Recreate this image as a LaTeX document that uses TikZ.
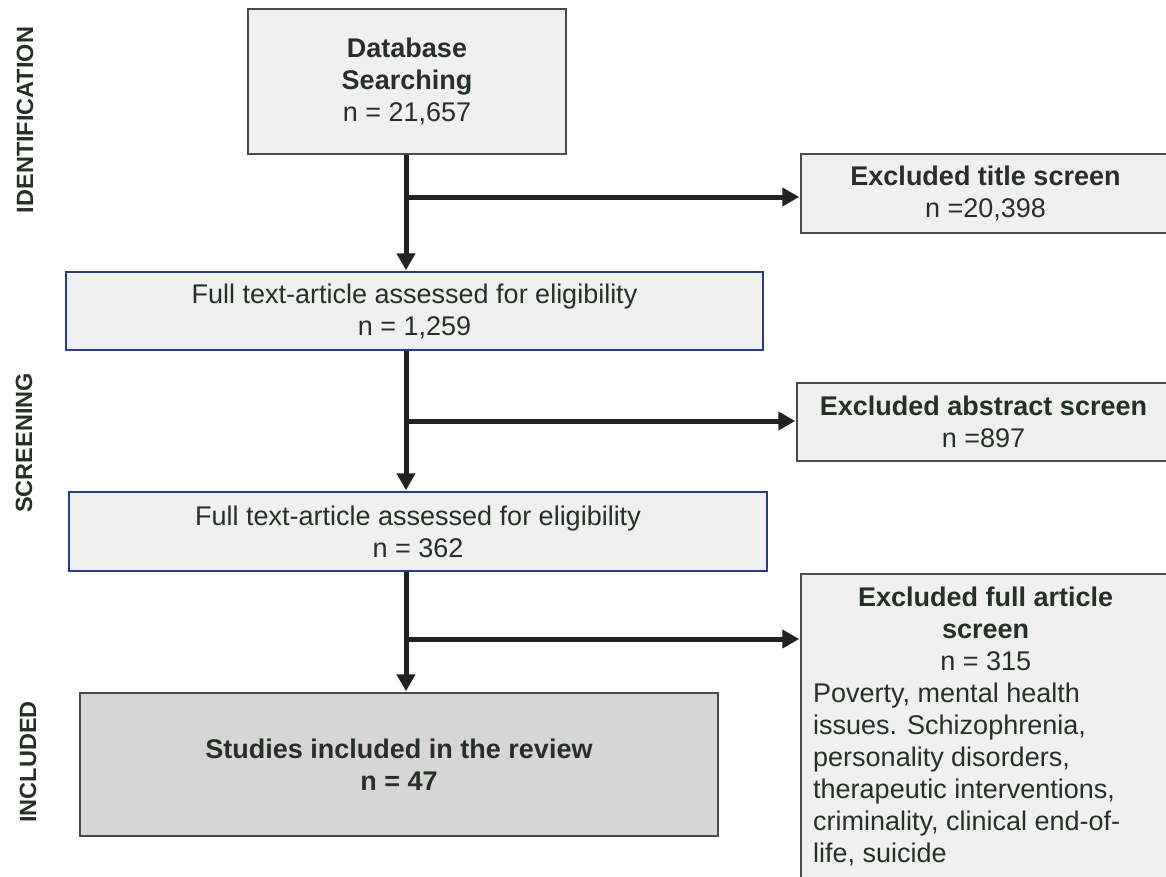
\documentclass[tikz,border=0pt]{standalone}
\usepackage{fontspec}
\setmainfont{Liberation Sans}
\usetikzlibrary{arrows.meta}
\definecolor{txt}{RGB}{38,48,38}
\definecolor{boxfill}{RGB}{240,240,240}
\definecolor{boxfilldark}{RGB}{214,214,214}
\definecolor{boxdraw}{RGB}{75,75,75}
\definecolor{bluedraw}{RGB}{40,60,140}
\definecolor{linecol}{RGB}{34,34,34}
\begin{document}
\begin{tikzpicture}[x=1pt,y=-1pt,
  every node/.style={text=txt,font=\fontsize{27}{32}\selectfont},
  box/.style={draw=boxdraw,line width=1.5pt,fill=boxfill,inner sep=0pt,align=center},
  bluebox/.style={box,draw=bluedraw},
  side/.style={rotate=90,font=\fontsize{23.5}{28}\selectfont\bfseries},
  arr/.style={draw=linecol,line width=5pt,-{Triangle[length=17pt,width=18pt]},shorten >=1pt}]
\useasboundingbox (0,0) rectangle (1166,876);
% boxes
\node[box,minimum width=318pt,minimum height=145pt] (db) at (407,81.5)
  {\textbf{Database}\\\textbf{Searching}\\n = 21,657};
\node[box,minimum width=369pt,minimum height=79pt] (ex1) at (985.5,193.5)
  {\textbf{Excluded title screen}\\n =20,398};
\node[bluebox,minimum width=697pt,minimum height=78pt] (ft1) at (414.5,311)
  {Full text-article assessed for eligibility\\n = 1,259};
\node[box,minimum width=373pt,minimum height=78pt] (ex2) at (983.5,422)
  {\textbf{Excluded abstract screen}\\n =897};
\node[bluebox,minimum width=698pt,minimum height=79pt] (ft2) at (418,531.5)
  {Full text-article assessed for eligibility\\n = 362};
\node[box,fill=boxfilldark,minimum width=638pt,minimum height=143pt] (st) at (399,764.5)
  {\textbf{Studies included in the review}\\\textbf{n = 47}};
\node[box,minimum width=369pt,minimum height=326pt] (ex3) at (985.5,737) {};
\node[anchor=north west,inner sep=0pt,align=left] (ex3txt) at (813,587)
  {\makebox[345pt]{\textbf{Excluded full article}}\\
   \makebox[345pt]{\textbf{screen}}\\
   \makebox[345pt]{n = 315}\\
   Poverty, mental health\\
   issues. Schizophrenia,\\
   personality disorders,\\
   therapeutic interventions,\\
   criminality, clinical end-of-\\
   life, suicide};
% side labels
\node[side] (lid) at (25,120) {IDENTIFICATION};
\node[side] (lsc) at (24,443) {SCREENING};
\node[side] (lin) at (28,762) {INCLUDED};
% connectors
\coordinate (sp) at (406,0);
\coordinate (j1) at (406,197);
\coordinate (j2) at (406,421);
\coordinate (j3) at (406,639);
\draw[arr] (db.south -| sp) -- (ft1.north -| sp);
\draw[arr] (j1) -- (j1 -| ex1.west);
\draw[arr] (ft1.south -| sp) -- (ft2.north -| sp);
\draw[arr] (j2) -- (j2 -| ex2.west);
\draw[arr] (ft2.south -| sp) -- (st.north -| sp);
\draw[arr] (j3) -- (j3 -| ex3.west);
\end{tikzpicture}
\end{document}
